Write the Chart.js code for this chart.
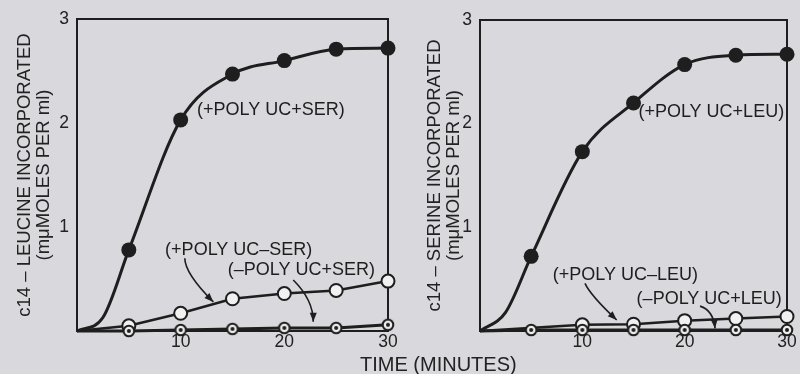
<!DOCTYPE html>
<html>
<head>
<meta charset="utf-8">
<script src="https://cdn.jsdelivr.net/npm/chart.js@4.4.0/dist/chart.umd.min.js"></script>
<style>
  html, body { margin: 0; padding: 0; background: #d8d8dd; }
  #wrap { position: relative; width: 800px; height: 374px; overflow: hidden; }
  .panel { position: absolute; top: 0; width: 400px; height: 374px; }
  #timeTitle {
    position: absolute; left: 360px; top: 354px;
    font: 20px "Liberation Sans", Arial, sans-serif; line-height: 20px;
    color: #222222; white-space: nowrap;
  }
</style>
</head>
<body>
<div id="wrap">
  <div class="panel" style="left:0"><canvas id="leu" width="400" height="374"></canvas></div>
  <div class="panel" style="left:400px"><canvas id="ser" width="400" height="374"></canvas></div>
  <div id="timeTitle">TIME (MINUTES)</div>
</div>
<script>
// time points (minutes)
const minutes = [0, 5, 10, 15, 20, 25, 30];
const curveMinutes = [0, 2.5, 5, 10, 15, 20, 25, 30]; // 2.5 is read off the curve, it has no marker
const xTickLabels = [10, 20, 30];
const yTickLabels = [1, 2, 3];

// left panel - C14 leucine incorporated
const leuPolySer = [0, 0.13, 0.78, 2.03, 2.47, 2.60, 2.71, 2.72];
const leuPolyNoSer = [0, 0.05, 0.17, 0.31, 0.36, 0.39, 0.48];
const leuNoPolySer = [0, 0.00, 0.01, 0.02, 0.03, 0.03, 0.06];

// right panel - C14 serine incorporated
const serPolyLeu = [0, 0.18, 0.72, 1.73, 2.20, 2.57, 2.66, 2.67];
const serPolyNoLeuMinutes = [0, 10, 15, 20, 25, 30];
const serPolyNoLeu = [0, 0.06, 0.065, 0.10, 0.12, 0.14];
const serNoPolyLeu = [0, 0.01, 0.01, 0.01, 0.01, 0.01, 0.01];

const ink = '#1e1e1e';
const fontFamily = '"Liberation Sans", Arial, sans-serif';

Chart.defaults.font.family = fontFamily;
Chart.defaults.color = '#222222';

function pairs(xs, ys) {
    return xs.map((x, i) => ({x: x, y: ys[i]}));
}

// small ring with a dot in the middle
function ringDot() {
    const c = document.createElement('canvas');
    c.width = 14; c.height = 14;
    const g = c.getContext('2d');
    g.beginPath(); g.arc(7, 7, 5.3, 0, Math.PI * 2);
    g.fillStyle = '#ededed'; g.fill();
    g.lineWidth = 2; g.strokeStyle = ink; g.stroke();
    g.beginPath(); g.arc(7, 7, 2, 0, Math.PI * 2);
    g.fillStyle = ink; g.fill();
    return c;
}
const dotStyle = ringDot();

function markerRadius(r) {
    return ctx => (ctx.raw && ctx.raw.x > 0 && ctx.raw.x % 5 === 0) ? r : 0;
}

// frame around the plot area
const boxPlugin = {
    id: 'box',
    beforeDatasetsDraw(chart) {
        const a = chart.chartArea, ctx = chart.ctx;
        ctx.save();
        ctx.strokeStyle = ink;
        ctx.lineWidth = 2;
        ctx.strokeRect(a.left, a.top, a.right - a.left, a.bottom - a.top);
        ctx.restore();
    }
};

// curve labels and curved arrows
const notesPlugin = {
    id: 'notes',
    afterDatasetsDraw(chart, args, opts) {
        const ctx = chart.ctx, x = chart.scales.x, y = chart.scales.y;
        const px = p => [x.getPixelForValue(p[0]), y.getPixelForValue(p[1])];
        ctx.save();
        ctx.fillStyle = ink;
        ctx.strokeStyle = ink;
        ctx.font = '18px ' + fontFamily;
        ctx.textAlign = 'center';
        ctx.textBaseline = 'middle';
        for (const n of opts.labels) {
            const p = px(n.at);
            ctx.fillText(n.text, p[0], p[1]);
        }
        ctx.lineWidth = 1.6;
        for (const a of opts.arrows) {
            const s = px(a.from), c = px(a.ctrl), e = px(a.to);
            ctx.beginPath();
            ctx.moveTo(s[0], s[1]);
            ctx.quadraticCurveTo(c[0], c[1], e[0], e[1]);
            ctx.stroke();
            const ang = Math.atan2(e[1] - c[1], e[0] - c[0]);
            ctx.beginPath();
            ctx.moveTo(e[0], e[1]);
            ctx.lineTo(e[0] - 9 * Math.cos(ang) + 3.5 * Math.sin(ang), e[1] - 9 * Math.sin(ang) - 3.5 * Math.cos(ang));
            ctx.lineTo(e[0] - 9 * Math.cos(ang) - 3.5 * Math.sin(ang), e[1] - 9 * Math.sin(ang) + 3.5 * Math.cos(ang));
            ctx.closePath();
            ctx.fill();
        }
        ctx.restore();
    }
};

function makeChart(id, curve, open, dotted, cfg) {
    const datasets = [
        {
            data: curve,
            borderColor: ink, borderWidth: 3,
            cubicInterpolationMode: 'monotone',
            pointRadius: markerRadius(7.5),
            pointBackgroundColor: ink, pointBorderColor: ink, pointBorderWidth: 0,
            clip: false
        },
        {
            data: dotted,
            borderColor: ink, borderWidth: 3,
            tension: 0,
            pointStyle: dotStyle,
            pointRadius: markerRadius(6),
            clip: false
        },
        {
            data: open,
            borderColor: ink, borderWidth: 2.5,
            tension: 0,
            pointRadius: markerRadius(6.5),
            pointBackgroundColor: '#f1f1f1', pointBorderColor: ink, pointBorderWidth: 2,
            clip: false
        }
    ];

    return new Chart(document.getElementById(id), {
        type: 'line',
        data: {datasets: datasets},
        plugins: [boxPlugin, notesPlugin],
        options: {
            responsive: false,
            animation: false,
            layout: {padding: {top: cfg.padTop, right: cfg.padRight, left: 0, bottom: 0}},
            plugins: {
                legend: {display: false},
                tooltip: {enabled: false},
                notes: {labels: cfg.labels, arrows: cfg.arrows}
            },
            scales: {
                x: {
                    type: 'linear', min: 0, max: 30,
                    grid: {display: false, drawTicks: false},
                    border: {display: false},
                    ticks: {
                        stepSize: 10, padding: 1,
                        font: {size: 17.5},
                        callback: v => xTickLabels.includes(v) ? String(v) : ''
                    },
                    afterFit: s => { s.height = 43; }
                },
                y: {
                    type: 'linear', min: 0, max: 3,
                    grid: {display: false, drawTicks: false},
                    border: {display: false},
                    ticks: {
                        stepSize: 1, padding: 8,
                        font: {size: 17.5},
                        callback: v => yTickLabels.includes(v) ? String(v) : ''
                    },
                    title: {
                        display: true,
                        text: cfg.yTitle,
                        font: {size: 18.5, lineHeight: 1.0},
                        padding: {top: cfg.titlePad, bottom: 0}
                    },
                    afterFit: s => { s.width = cfg.yWidth; }
                }
            }
        }
    });
}

makeChart('leu',
    pairs(curveMinutes, leuPolySer),
    pairs(minutes, leuPolyNoSer),
    pairs(minutes, leuNoPolySer),
    {
        yTitle: ['c14 \u2013 LEUCINE INCORPORATED', '(m\u03bcMOLES PER ml)'],
        yWidth: 77, padTop: 19, padRight: 12, titlePad: 16,
        labels: [
            {text: '(+POLY UC+SER)', at: [18.7, 2.12]},
            {text: '(+POLY UC\u2013SER)', at: [15.6, 0.78]},
            {text: '(\u2013POLY UC+SER)', at: [21.65, 0.59]}
        ],
        arrows: [
            {from: [10.4, 0.70], ctrl: [10.4, 0.555], to: [13.15, 0.28]},
            {from: [20.86, 0.49], ctrl: [22.79, 0.30], to: [22.79, 0.09]}
        ]
    });

makeChart('ser',
    pairs(curveMinutes, serPolyLeu),
    pairs(serPolyNoLeuMinutes, serPolyNoLeu),
    pairs(minutes, serNoPolyLeu),
    {
        yTitle: ['c14 \u2013 SERINE INCORPORATED', '(m\u03bcMOLES PER ml)'],
        yWidth: 80, padTop: 20, padRight: 13, titlePad: 26,
        labels: [
            {text: '(+POLY UC+LEU)', at: [22.6, 2.11]},
            {text: '(+POLY UC\u2013LEU)', at: [14.2, 0.54]},
            {text: '(\u2013POLY UC+LEU)', at: [22.4, 0.31]}
        ],
        arrows: [
            {from: [10.26, 0.46], ctrl: [10.75, 0.35], to: [13.36, 0.106]},
            {from: [21.5, 0.24], ctrl: [22.8, 0.2], to: [22.97, 0.026]}
        ]
    });
</script>
</body>
</html>
